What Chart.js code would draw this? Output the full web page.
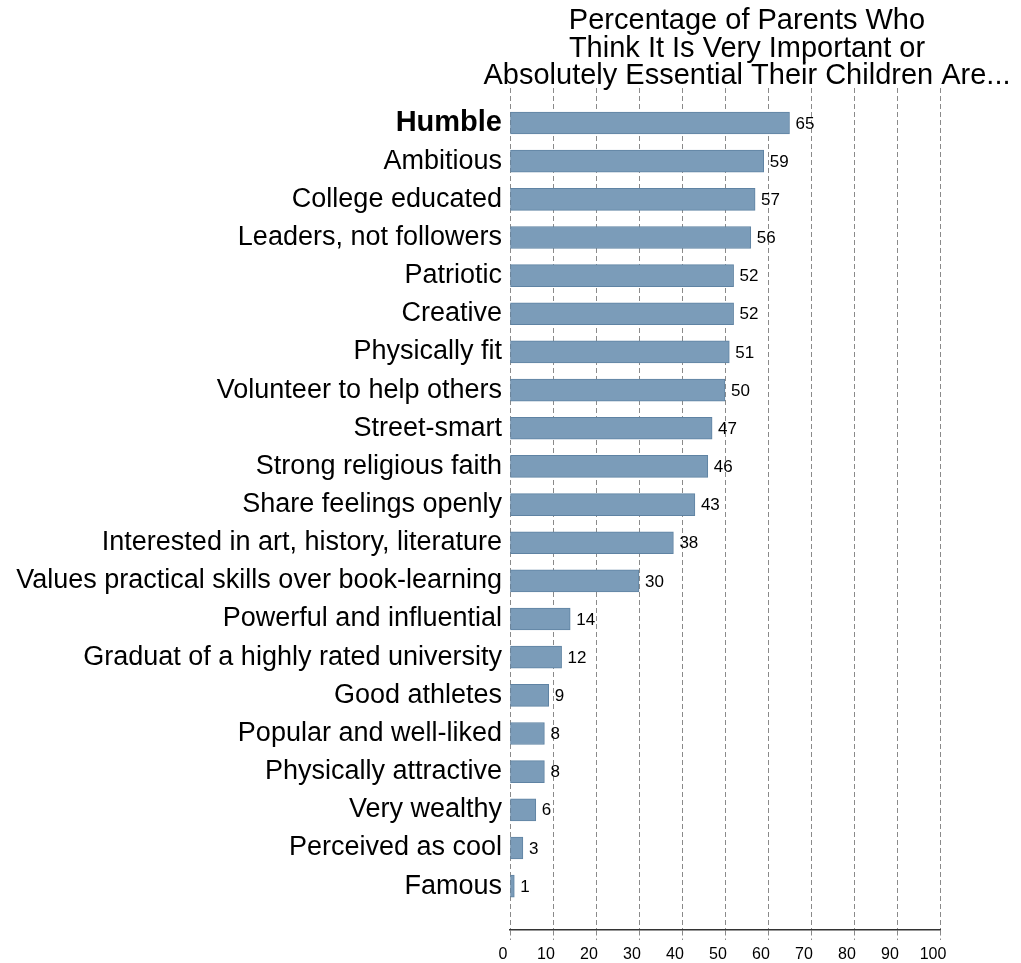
<!DOCTYPE html>
<html lang="en">
<head>
    <meta charset="UTF-8">
    <title>Parents survey</title>
    <script src="https://cdn.jsdelivr.net/npm/chart.js@4.4.0/dist/chart.umd.min.js"></script>
    <style>
        html, body { margin: 0; padding: 0; background: #fff; }
        #wrap { width: 1021px; height: 963px; }
    </style>
</head>
<body>
    <div id="wrap"><canvas id="chart"></canvas></div>
    <script>
        const categories = [
            'Humble', 'Ambitious', 'College educated', 'Leaders, not followers', 'Patriotic',
            'Creative', 'Physically fit', 'Volunteer to help others', 'Street-smart',
            'Strong religious faith', 'Share feelings openly', 'Interested in art, history, literature',
            'Values practical skills over book-learning', 'Powerful and influential',
            'Graduat of a highly rated university', 'Good athletes', 'Popular and well-liked',
            'Physically attractive', 'Very wealthy', 'Perceived as cool', 'Famous'
        ];
        const percents = [65, 59, 57, 56, 52, 52, 51, 50, 47, 46, 43, 38, 30, 14, 12, 9, 8, 8, 6, 3, 1];
        const titleLines = [
            'Percentage of Parents Who',
            'Think It Is Very Important or',
            'Absolutely Essential Their Children Are...'
        ];

        const FONT = "'Liberation Sans', Arial, sans-serif";

        // title is centred over the bars, not the whole canvas
        const titlePlugin = {
            id: 'titleLines',
            afterDraw(chart) {
                const ctx = chart.ctx;
                ctx.save();
                ctx.font = '29px ' + FONT;
                ctx.fillStyle = '#000';
                ctx.textAlign = 'center';
                ctx.textBaseline = 'middle';
                titleLines.forEach((t, i) => ctx.fillText(t, 747, 21 + i * 27.5));
                ctx.restore();
            }
        };

        const valueLabels = {
            id: 'valueLabels',
            afterDatasetsDraw(chart) {
                const ctx = chart.ctx;
                const meta = chart.getDatasetMeta(0);
                ctx.save();
                ctx.font = '17px ' + FONT;
                ctx.fillStyle = '#000';
                ctx.textBaseline = 'middle';
                meta.data.forEach((bar, i) => {
                    ctx.fillText(String(percents[i]), bar.x + 6, bar.y + 1);
                });
                ctx.restore();
            }
        };

        new Chart(document.getElementById('chart'), {
            type: 'bar',
            data: {
                datasets: [{
                    data: percents.map((v, i) => ({ x: v, y: i })),
                    backgroundColor: '#7b9cb9',
                    borderColor: '#5f83a3',
                    borderWidth: 1,
                    borderSkipped: false,
                    barThickness: 22
                }]
            },
            options: {
                indexAxis: 'y',
                responsive: true,
                maintainAspectRatio: false,
                animation: false,
                layout: { padding: { top: 88, right: 81, bottom: 0, left: 0 } },
                plugins: { legend: { display: false }, tooltip: { enabled: false } },
                scales: {
                    x: {
                        type: 'linear',
                        position: 'bottom',
                        min: 0,
                        max: 100,
                        afterFit(scale) { scale.height = 33; },
                        ticks: {
                            stepSize: 10, color: '#000', padding: 5, labelOffset: -7,
                            font: { family: FONT, size: 16 }
                        },
                        grid: {
                            color: '#8a8a8a',
                            lineWidth: 1,
                            tickLength: 10,
                            tickColor: '#8a8a8a',
                            tickBorderDash: [5, 3]
                        },
                        border: { display: true, color: '#333', width: 1.5, dash: [5, 3] }
                    },
                    y: {
                        type: 'linear',
                        reverse: true,
                        offset: false,
                        min: -0.917,
                        max: 21.15,
                        afterFit(scale) { scale.width = 510; },
                        afterBuildTicks(scale) {
                            scale.ticks = categories.map((_, i) => ({ value: i }));
                        },
                        ticks: {
                            autoSkip: false,
                            padding: 8,
                            color: '#000',
                            callback: (v) => categories[v],
                            font: (ctx) => (ctx.tick && ctx.tick.value === 0
                                ? { family: FONT, size: 29, weight: 'bold' }
                                : { family: FONT, size: 27, weight: 'normal' })
                        },
                        grid: { display: false, drawTicks: false },
                        border: { display: false }
                    }
                }
            },
            plugins: [titlePlugin, valueLabels]
        });
    </script>
</body>
</html>
